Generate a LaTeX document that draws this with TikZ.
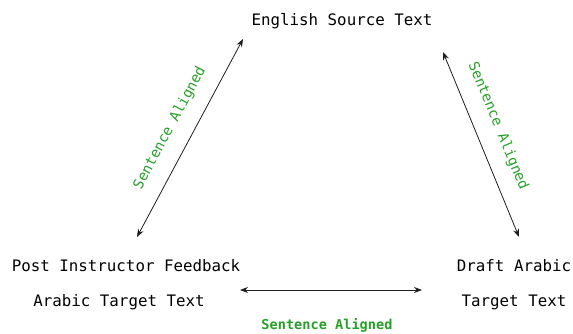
\documentclass[tikz,border=0pt]{standalone}
\usepackage{fontspec}
\setmonofont{DejaVu Sans Mono}
\usetikzlibrary{arrows.meta}
\definecolor{lblgreen}{RGB}{40,160,40}
\definecolor{linegray}{RGB}{30,30,30}
\tikzset{
  txt/.style={font=\ttfamily\fontsize{15.8}{18}\selectfont, inner sep=0pt, text=black},
  lbl/.style={font=\ttfamily\fontsize{14.2}{17}\selectfont, inner sep=0pt, text=lblgreen},
  blbl/.style={font=\ttfamily\bfseries\fontsize{13.6}{16}\selectfont, inner sep=0pt, text=lblgreen},
  conn/.style={draw=linegray, line width=0.8pt, {Stealth[length=8pt,width=6pt]}-{Stealth[length=8pt,width=6pt]}}
}
\begin{document}
\begin{tikzpicture}[x=1pt,y=-1pt]
\useasboundingbox (0,0) rectangle (573,334);
\node[txt] (eng) at (342,21) {English Source Text};
\node[txt] (post) at (126,266) {Post Instructor Feedback};
\node[txt] (arab) at (119,302) {Arabic Target Text};
\node[txt] (draft) at (514,266) {Draft Arabic};
\node[txt] (targ) at (514,302) {Target Text};
\coordinate (l1) at (137,237);
\coordinate (l2) at (243,39);
\coordinate (r1) at (443,52);
\coordinate (r2) at (519,237);
\coordinate (h1) at (240,290);
\coordinate (h2) at (422,290);
\draw[conn] (l1) -- (l2);
\draw[conn] (r1) -- (r2);
\draw[conn] (h1) -- (h2);
\node[lbl, rotate=61.8] (lab1) at (170,128) {Sentence Aligned};
\node[lbl, rotate=-67.7] (lab2) at (498,126) {Sentence Aligned};
\node[blbl] (lab3) at (327,325) {Sentence Aligned};
\end{tikzpicture}
\end{document}
